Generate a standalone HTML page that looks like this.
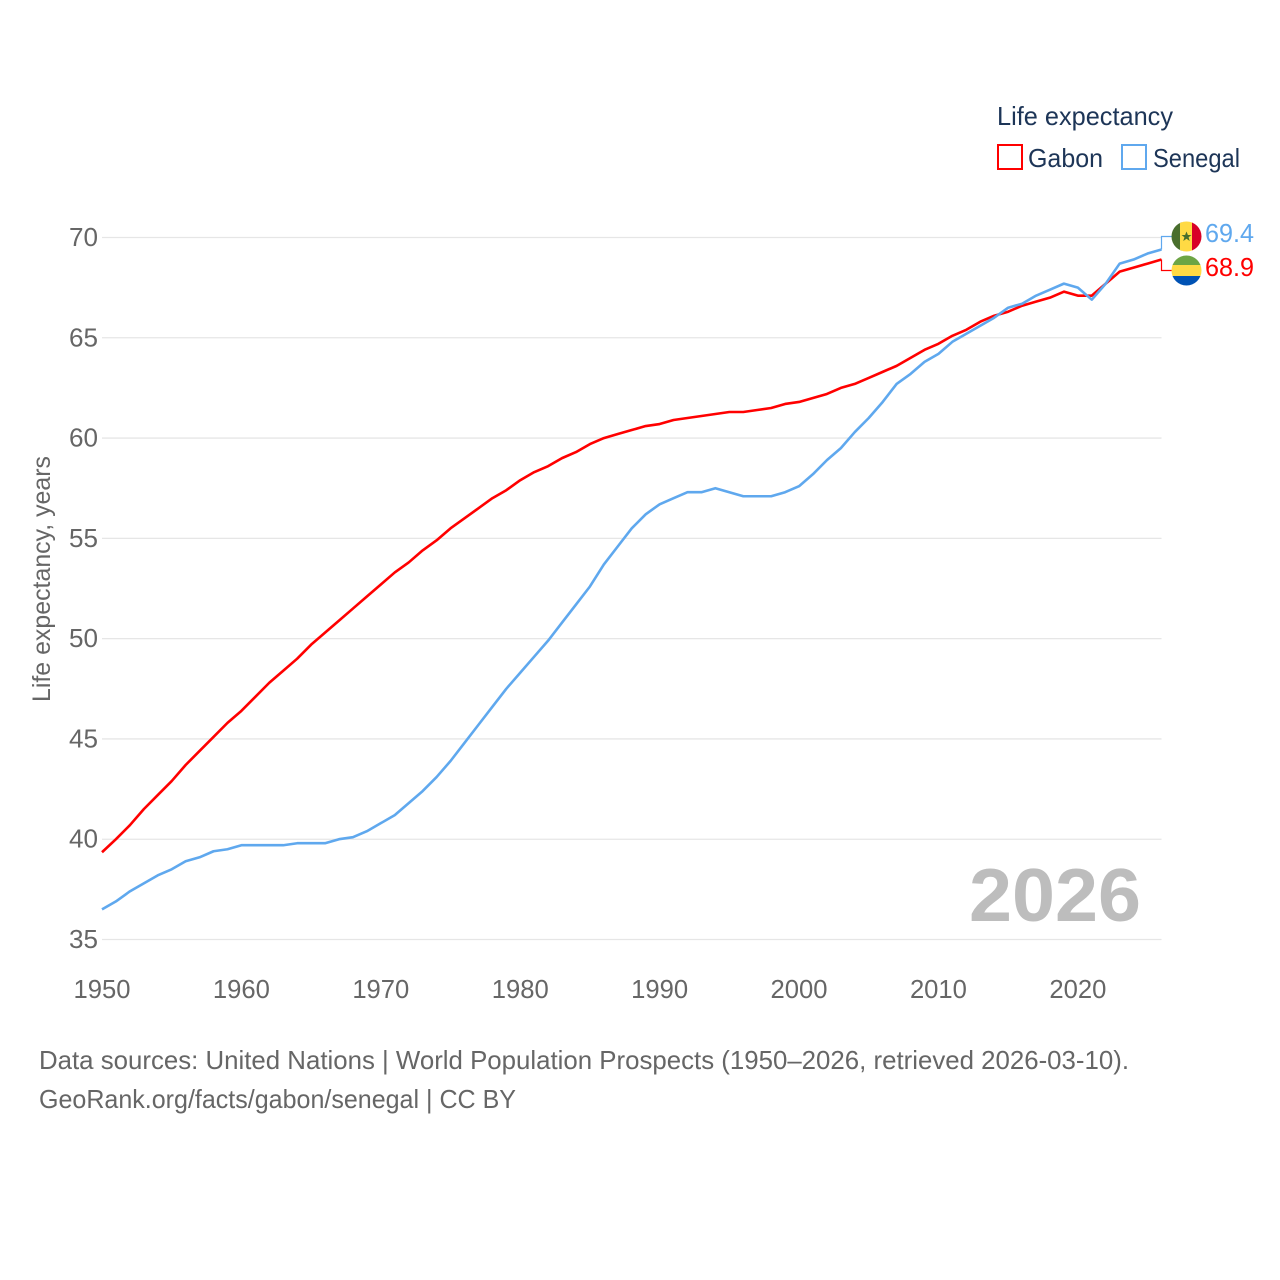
<!DOCTYPE html>
<html lang="en">
<head>
<meta charset="utf-8">
<title>Life expectancy: Gabon and Senegal</title>
<style>
html,body{margin:0;padding:0;background:#fff;width:1280px;height:1280px;overflow:hidden}
svg{display:block}
text{font-family:"Liberation Sans",sans-serif}
</style>
</head>
<body>
<svg id="chart" width="1280" height="1280" viewBox="0 0 1280 1280" xmlns="http://www.w3.org/2000/svg">
  <defs>
    <clipPath id="flag-sn-clip"><circle cx="1186.5" cy="236.5" r="15"/></clipPath>
    <clipPath id="flag-ga-clip"><circle cx="1186.5" cy="270.5" r="15"/></clipPath>
  </defs>
  <g id="grid"></g>
  <g id="y-ticks"></g>
  <g id="x-ticks"></g>
  <text transform="translate(50,579) rotate(-90)" text-anchor="middle" font-size="25" fill="#666" textLength="246" lengthAdjust="spacingAndGlyphs">Life expectancy, years</text>
  <text x="969" y="921" font-size="75" font-weight="700" fill="#bdbdbd" textLength="172" lengthAdjust="spacingAndGlyphs">2026</text>
  <g id="series"></g>

  <g>
    <text x="997" y="125" font-size="26" fill="#1d3557" textLength="176" lengthAdjust="spacingAndGlyphs">Life expectancy</text>
    <g>
      <rect x="998" y="145" width="24" height="24" fill="none" stroke="#ff0000" stroke-width="2"/>
      <text x="1028" y="167" font-size="26" fill="#1d3557" textLength="75" lengthAdjust="spacingAndGlyphs">Gabon</text>
    </g>
    <g>
      <rect x="1122" y="145" width="24" height="24" fill="none" stroke="#5fa8ee" stroke-width="2"/>
      <text x="1153" y="167" font-size="26" fill="#1d3557" textLength="87" lengthAdjust="spacingAndGlyphs">Senegal</text>
    </g>
  </g>

  <g>
    <g clip-path="url(#flag-sn-clip)">
      <rect x="1171" y="221" width="11" height="31" fill="#496e2d"/>
      <rect x="1180" y="221" width="13" height="31" fill="#ffda44"/>
      <rect x="1192" y="221" width="11" height="31" fill="#d80027"/>
    </g>
    <polygon points="1186.5,231.5 1187.9,235 1191.5,235 1188.6,237.3 1189.7,241 1186.5,238.8 1183.3,241 1184.4,237.3 1181.5,235 1185.1,235" fill="#496e2d"/>
  </g>
  <g>
    <g clip-path="url(#flag-ga-clip)">
      <rect x="1171" y="255" width="31" height="10.5" fill="#6da544"/>
      <rect x="1171" y="265" width="31" height="11" fill="#ffda44"/>
      <rect x="1171" y="276" width="31" height="10" fill="#0052b4"/>
    </g>
  </g>
  <text id="end-senegal" x="1205" y="242" font-size="26" fill="#5fa8ee" textLength="49" lengthAdjust="spacingAndGlyphs"></text>
  <text id="end-gabon" x="1205" y="276" font-size="26" fill="#ff0000" textLength="49" lengthAdjust="spacingAndGlyphs"></text>

  <g>
    <text x="39" y="1069" font-size="26" fill="#666" textLength="1090" lengthAdjust="spacingAndGlyphs">Data sources: United Nations | World Population Prospects (1950–2026, retrieved 2026-03-10).</text>
    <text x="39" y="1108" font-size="26" fill="#666" textLength="477" lengthAdjust="spacingAndGlyphs">GeoRank.org/facts/gabon/senegal | CC BY</text>
  </g>
</svg>
<script>
const years = [1950,1951,1952,1953,1954,1955,1956,1957,1958,1959,1960,1961,1962,1963,1964,1965,1966,1967,1968,1969,1970,1971,1972,1973,1974,1975,1976,1977,1978,1979,1980,1981,1982,1983,1984,1985,1986,1987,1988,1989,1990,1991,1992,1993,1994,1995,1996,1997,1998,1999,2000,2001,2002,2003,2004,2005,2006,2007,2008,2009,2010,2011,2012,2013,2014,2015,2016,2017,2018,2019,2020,2021,2022,2023,2024,2025,2026];
const gabonValues = [39.35,40.0,40.7,41.5,42.2,42.9,43.7,44.4,45.1,45.8,46.4,47.1,47.8,48.4,49.0,49.7,50.3,50.9,51.5,52.1,52.7,53.3,53.8,54.4,54.9,55.5,56.0,56.5,57.0,57.4,57.9,58.3,58.6,59.0,59.3,59.7,60.0,60.2,60.4,60.6,60.7,60.9,61.0,61.1,61.2,61.3,61.3,61.4,61.5,61.7,61.8,62.0,62.2,62.5,62.7,63.0,63.3,63.6,64.0,64.4,64.7,65.1,65.4,65.8,66.1,66.3,66.6,66.8,67.0,67.3,67.1,67.1,67.7,68.3,68.5,68.7,68.9];
const senegalValues = [36.5,36.9,37.4,37.8,38.2,38.5,38.9,39.1,39.4,39.5,39.7,39.7,39.7,39.7,39.8,39.8,39.8,40.0,40.1,40.4,40.8,41.2,41.8,42.4,43.1,43.9,44.8,45.7,46.6,47.5,48.3,49.1,49.9,50.8,51.7,52.6,53.7,54.6,55.5,56.2,56.7,57.0,57.3,57.3,57.5,57.3,57.1,57.1,57.1,57.3,57.6,58.2,58.9,59.5,60.3,61.0,61.8,62.7,63.2,63.8,64.2,64.8,65.2,65.6,66.0,66.5,66.7,67.1,67.4,67.7,67.5,66.9,67.7,68.7,68.9,69.2,69.4];
const yTickValues = [35,40,45,50,55,60,65,70];
const xTickValues = [1950,1960,1970,1980,1990,2000,2010,2020];

const SVG_NS = 'http://www.w3.org/2000/svg';
const xScale = function (year) { return 102 + (year - 1950) * (1161.5 - 102) / 76; };
const yScale = function (value) { return 939.5 - (value - 35) * (939.5 - 237.5) / 35; };

const gridGroup = document.getElementById('grid');
const yTickGroup = document.getElementById('y-ticks');
const xTickGroup = document.getElementById('x-ticks');
const seriesGroup = document.getElementById('series');

yTickValues.forEach(function (v) {
  const line = document.createElementNS(SVG_NS, 'line');
  
  
  line.setAttribute('x1', xScale(1950));
  line.setAttribute('x2', xScale(2026));
  line.setAttribute('y1', yScale(v));
  line.setAttribute('y2', yScale(v));
  line.setAttribute('stroke', '#e6e6e6');
  line.setAttribute('stroke-width', '1.3');
  gridGroup.appendChild(line);

  const label = document.createElementNS(SVG_NS, 'text');
  
  
  label.setAttribute('x', 69);
  label.setAttribute('y', yScale(v) + 8.5);
  label.setAttribute('font-size', '26');
  label.setAttribute('fill', '#666');
  label.setAttribute('textLength', '29');
  label.setAttribute('lengthAdjust', 'spacingAndGlyphs');
  label.textContent = String(v);
  yTickGroup.appendChild(label);
});

xTickValues.forEach(function (yr) {
  const label = document.createElementNS(SVG_NS, 'text');
  
  
  label.setAttribute('x', xScale(yr) - 28.5);
  label.setAttribute('y', 998);
  label.setAttribute('font-size', '26');
  label.setAttribute('fill', '#666');
  label.setAttribute('textLength', '57');
  label.setAttribute('lengthAdjust', 'spacingAndGlyphs');
  label.textContent = String(yr);
  xTickGroup.appendChild(label);
});

function pathFor(values) {
  return values.map(function (v, i) {
    return (i ? 'L' : 'M') + xScale(years[i]).toFixed(2) + ' ' + yScale(v).toFixed(2);
  }).join(' ');
}

const lastIndex = years.length - 1;
const lastX = xScale(years[lastIndex]);

const gabonLine = document.createElementNS(SVG_NS, 'path');


gabonLine.setAttribute('d', pathFor(gabonValues));
gabonLine.setAttribute('fill', 'none');
gabonLine.setAttribute('stroke', '#ff0000');
gabonLine.setAttribute('stroke-width', '2.6');
gabonLine.setAttribute('stroke-linejoin', 'round');
seriesGroup.appendChild(gabonLine);

const senegalLine = document.createElementNS(SVG_NS, 'path');


senegalLine.setAttribute('d', pathFor(senegalValues));
senegalLine.setAttribute('fill', 'none');
senegalLine.setAttribute('stroke', '#5fa8ee');
senegalLine.setAttribute('stroke-width', '2.6');
senegalLine.setAttribute('stroke-linejoin', 'round');
seriesGroup.appendChild(senegalLine);

const gabonConnector = document.createElementNS(SVG_NS, 'path');


gabonConnector.setAttribute('d', 'M' + lastX + ' ' + yScale(gabonValues[lastIndex]).toFixed(2) + ' V270.5 H1172');
gabonConnector.setAttribute('fill', 'none');
gabonConnector.setAttribute('stroke', '#ff0000');
gabonConnector.setAttribute('stroke-width', '1.2');
seriesGroup.appendChild(gabonConnector);

const senegalConnector = document.createElementNS(SVG_NS, 'path');


senegalConnector.setAttribute('d', 'M' + lastX + ' ' + yScale(senegalValues[lastIndex]).toFixed(2) + ' V236.5 H1172');
senegalConnector.setAttribute('fill', 'none');
senegalConnector.setAttribute('stroke', '#5fa8ee');
senegalConnector.setAttribute('stroke-width', '1.2');
seriesGroup.appendChild(senegalConnector);

document.getElementById('end-senegal').textContent = senegalValues[lastIndex].toFixed(1);
document.getElementById('end-gabon').textContent = gabonValues[lastIndex].toFixed(1);
</script>
</body>
</html>
